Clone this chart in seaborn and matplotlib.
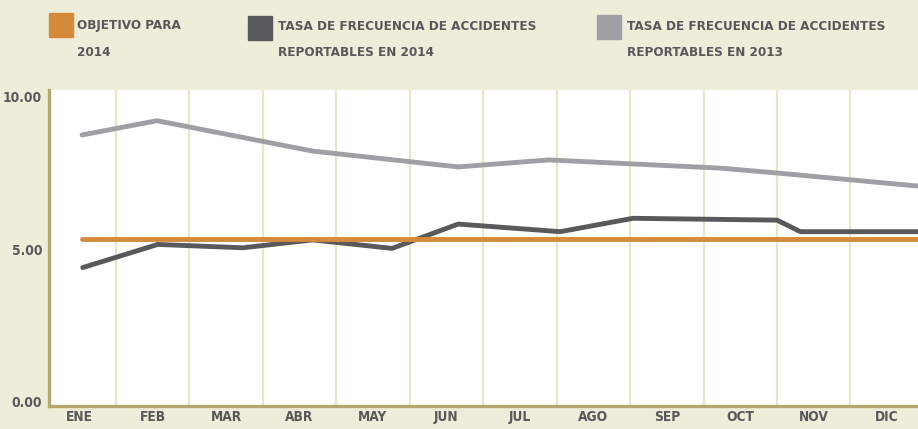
import matplotlib
matplotlib.use("Agg")
import matplotlib.pyplot as plt
from matplotlib import font_manager
from matplotlib.patches import Rectangle
import seaborn as sns
import pandas as pd

#-------------------------------------------------------------------------------
# data (x in month units, 0 = ENE)
meses = ["ENE", "FEB", "MAR", "ABR", "MAY", "JUN", "JUL", "AGO", "SEP", "OCT", "NOV", "DIC"]

obj_x = [0.04, 11.42]
obj_y = [5.32, 5.32]

t2014_x = [0.05, 1.07, 2.23, 3.18, 4.26, 5.16, 6.55, 7.54, 9.50, 9.82, 11.42]
t2014_y = [4.39, 5.15, 5.04, 5.30, 5.02, 5.82, 5.57, 6.01, 5.95, 5.57, 5.57]

t2013_x = [0.04, 1.06, 3.18, 5.16, 6.39, 8.73, 9.50, 11.42]
t2013_y = [8.75, 9.22, 8.22, 7.70, 7.93, 7.66, 7.50, 7.07]

y_ticks = [0, 5, 10]
y_labels = ["0.00", "5.00", "10.00"]

leyenda = [("OBJETIVO PARA", "2014"),
           ("TASA DE FRECUENCIA DE ACCIDENTES", "REPORTABLES EN 2014"),
           ("TASA DE FRECUENCIA DE ACCIDENTES", "REPORTABLES EN 2013")]

#-------------------------------------------------------------------------------
# style
BG = "#EEEDDA"
GRID = "#E9E6C6"
SPINE = "#B6A86C"
TXT = "#58585A"
C_OBJ = "#D48A38"
C_14 = "#58595B"
C_13 = "#A0A0A4"

sns.set_style("white")
names = {f.name for f in font_manager.fontManager.ttflist}
if "Liberation Sans Narrow" in names:
    plt.rcParams["font.family"] = ["Liberation Sans Narrow", "DejaVu Sans"]
    STRETCH = "normal"
else:
    plt.rcParams["font.family"] = ["DejaVu Sans"]
    STRETCH = "condensed"

fig = plt.figure(figsize=(9.18, 4.29), dpi=100, facecolor=BG)
ax = fig.add_axes([49 / 918, 23 / 429, 869 / 918, 316 / 429])
ax.set_facecolor("white")

# vertical grid between months
for k in range(len(meses)):
    ax.axvline(k + 0.5, color=GRID, lw=1.6, zorder=0)

df_obj = pd.DataFrame({"x": obj_x, "y": obj_y})
df_14 = pd.DataFrame({"x": t2014_x, "y": t2014_y})
df_13 = pd.DataFrame({"x": t2013_x, "y": t2013_y})

sns.lineplot(data=df_13, x="x", y="y", color=C_13, lw=3.5, ax=ax, zorder=3, sort=False)
sns.lineplot(data=df_14, x="x", y="y", color=C_14, lw=3.5, ax=ax, zorder=4, sort=False)
sns.lineplot(data=df_obj, x="x", y="y", color=C_OBJ, lw=3.5, ax=ax, zorder=5, sort=False)

ax.set_xlim(-0.41, 11.42)
ax.set_ylim(-0.164, 10.23)
ax.set_xticks(range(len(meses)))
ax.set_xticklabels(meses)
ax.set_yticks(y_ticks)
ax.set_yticklabels(y_labels)
ax.set_xlabel("")
ax.set_ylabel("")
ax.tick_params(length=0, colors=TXT, labelsize=9.8)
ax.tick_params(axis="x", pad=3)
ax.tick_params(axis="y", pad=5)
for lab in ax.get_xticklabels() + ax.get_yticklabels():
    lab.set_fontweight("bold")
    lab.set_fontstretch(STRETCH)

for s in ["top", "right"]:
    ax.spines[s].set_visible(False)
for s in ["left", "bottom"]:
    ax.spines[s].set_color(SPINE)
    ax.spines[s].set_linewidth(2.4)

# legend drawn at figure level
sq = [(49, 13, C_OBJ), (248, 16, C_14), (597, 15, C_13)]
tx = [77, 278, 627]
for (x0, y0, c), (l1, l2), x1 in zip(sq, leyenda, tx):
    fig.patches.append(Rectangle((x0 / 918, 1 - (y0 + 24) / 429), 24 / 918, 24 / 429,
                                 transform=fig.transFigure, color=c))
    for t, yc in [(l1, 26), (l2, 53)]:
        fig.text(x1 / 918, 1 - yc / 429, t, ha="left", va="center", color=TXT,
                 fontsize=9.6, fontweight="bold", fontstretch=STRETCH)

fig.savefig("out.png", dpi=100, facecolor=BG)
